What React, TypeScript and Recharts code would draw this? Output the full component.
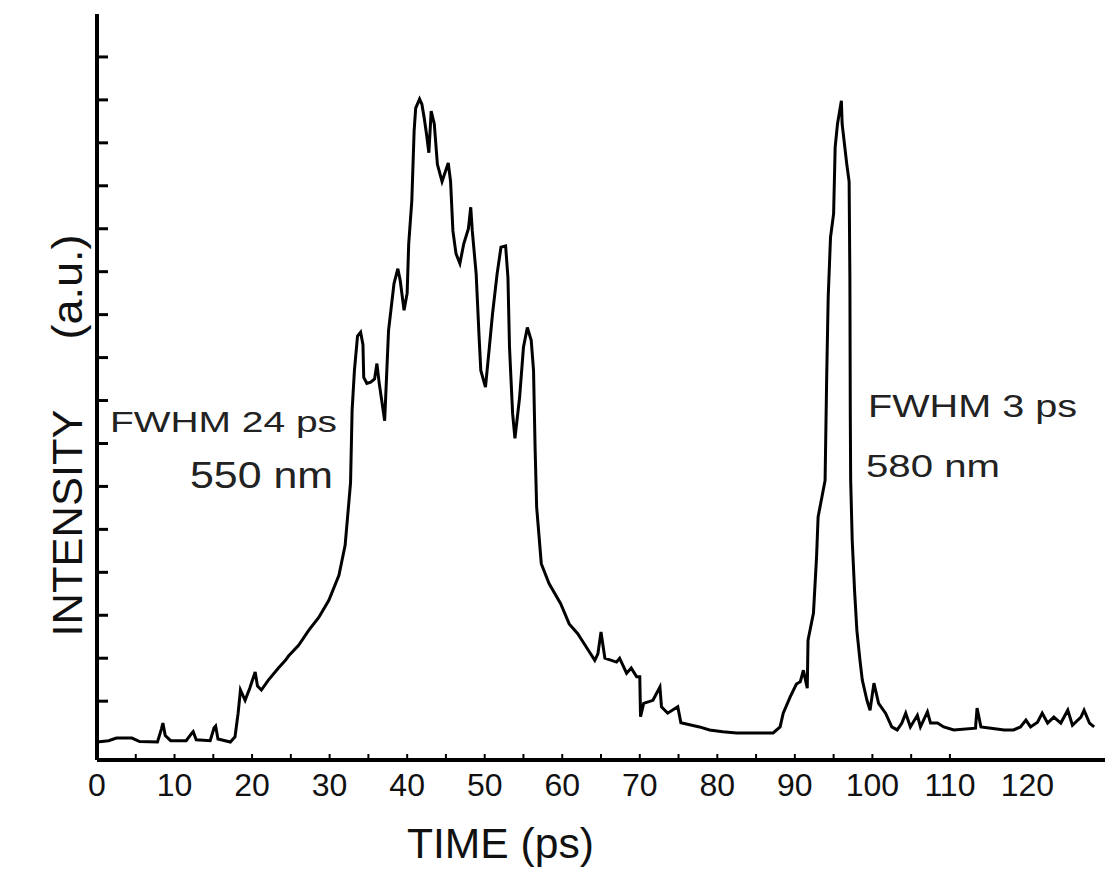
import React from "react";
import { LineChart, Line, XAxis, YAxis } from "recharts";

// time in ps, intensity in arbitrary units (one unit = one y tick step)
const time = [
  0, 1.5, 2.5, 4.5, 5.5, 7.8, 8.3, 8.5, 8.8, 9.5, 11.5, 12.2, 12.4, 12.8, 14.6, 15.1, 15.3, 15.6, 17.2, 17.8,
  18.2, 18.5, 19.1, 19.7, 20.4, 20.7, 21.2, 22.1, 23.4, 24.3, 24.7, 26, 27.3, 28.6, 29.9, 31.2, 32, 32.5, 32.7, 32.9,
  33.2, 33.6, 34.0, 34.3, 34.4, 34.8, 35.3, 35.8, 36.1, 36.4, 37.1, 37.6, 38.3, 38.8, 39.1, 39.6, 40, 40.2, 40.6, 40.9,
  41.1, 41.6, 41.9, 42.2, 42.5, 42.8, 43.1, 43.5, 43.9, 44.5, 45.3, 45.6, 45.9, 46.3, 46.8, 47.3, 47.9, 48.2, 48.4, 48.9,
  49.3, 49.5, 50.1, 50.6, 51, 51.6, 52.1, 52.7, 53.0, 53.2, 53.6, 53.9, 54.5, 55, 55.5, 56, 56.3, 56.5, 56.7, 57.3,
  58.3, 59.8, 60.9, 62, 63.1, 64.2, 64.6, 65, 65.5, 67, 67.4, 68.3, 68.9, 69.6, 70, 70.1, 70.5, 71.7, 72.6, 72.8,
  73.6, 74.9, 75.3, 77.7, 79, 80.7, 82.5, 85.1, 87.2, 88.1, 88.5, 89.4, 90.2, 90.7, 91.1, 91.6, 91.7, 92.4, 92.8, 93,
  93.9, 94.1, 94.3, 94.6, 95, 95.2, 95.5, 96, 96.1, 96.7, 97, 97.1, 97.15, 97.2, 97.4, 97.7, 98.0, 98.4, 98.7, 99.3,
  99.7, 100.2, 100.8, 101.7, 102.5, 103.2, 103.8, 104.3, 104.9, 105.8, 106.2, 107.1, 107.5, 108.4, 109.2, 110.5, 113.3, 113.5, 114, 115.3,
  117, 118.2, 119.1, 119.8, 120.4, 121.3, 121.9, 122.6, 123.4, 124.3, 125.2, 125.8, 126.9, 127.3, 128, 128.6,
];

const intensity = [
  0.05, 0.08, 0.14, 0.14, 0.06, 0.05, 0.35, 0.49, 0.2, 0.08, 0.08, 0.25, 0.29, 0.1, 0.08, 0.38, 0.42, 0.12, 0.05, 0.17,
  0.72, 1.26, 1.02, 1.3, 1.68, 1.35, 1.26, 1.49, 1.77, 1.95, 2.05, 2.3, 2.65, 2.95, 3.35, 3.93, 4.63, 5.67, 6.09, 7.77,
  8.7, 9.5, 9.59, 9.3, 8.54, 8.4, 8.43, 8.5, 8.86, 8.4, 7.53, 9.63, 10.72, 11.07, 10.8, 10.1, 10.5, 11.65, 12.65, 14.28,
  14.81, 15.02, 14.9, 14.58, 14.2, 13.77, 14.74, 14.44, 13.5, 13.1, 13.53, 13.1, 11.95, 11.42, 11.19, 11.65, 12.0, 12.5, 11.95, 10.95,
  9.4, 8.7, 8.31, 9.24, 10.0, 10.95, 11.57, 11.6, 10.86, 9.24, 7.7, 7.12, 8.07, 9.24, 9.7, 9.4, 8.7, 6.9, 5.52, 4.2,
  3.74, 3.27, 2.8, 2.57, 2.26, 1.95, 2.1, 2.61, 2.0, 1.91, 2.0, 1.65, 1.77, 1.57, 1.57, 0.64, 0.95, 1.02, 1.33, 0.87,
  0.72, 0.87, 0.5, 0.4, 0.33, 0.29, 0.26, 0.26, 0.26, 0.4, 0.72, 1.1, 1.4, 1.45, 1.72, 1.3, 2.42, 3.05, 4.36, 5.29,
  6.14, 8.47, 10.4, 11.8, 12.35, 13.9, 14.44, 14.98, 14.44, 13.5, 13.1, 10.8, 7.7, 6.14, 4.74, 3.58, 2.65, 1.95, 1.49, 1.02,
  0.79, 1.42, 0.95, 0.72, 0.4, 0.33, 0.49, 0.72, 0.4, 0.67, 0.4, 0.75, 0.49, 0.49, 0.4, 0.33, 0.37, 0.84, 0.4, 0.37,
  0.33, 0.33, 0.4, 0.56, 0.4, 0.51, 0.72, 0.49, 0.63, 0.49, 0.79, 0.44, 0.63, 0.79, 0.49, 0.4,
];

const xLabels = [0, 10, 20, 30, 40, 50, 60, 70, 80, 90, 100, 110, 120];
const xMinorTicks = [5, 10, 15, 20, 25, 30, 35, 40, 45, 50, 55, 60, 65, 70, 75, 80, 85, 90, 95, 100, 105, 110];
const yTicks = [1, 2, 3, 4, 5, 6, 7, 8, 9, 10, 11, 12, 13, 14, 15, 16];

const data = time.map((t, i) => ({ t, v: intensity[i] }));

const font = "'Liberation Sans', Arial, sans-serif";

const NoLabel = () => <g />;

export default function App() {
  return (
    <div style={{ position: "absolute", left: 0, top: 0, width: 1107, height: 870, background: "#fff" }}>
      <LineChart width={1107} height={870} data={data} margin={{ top: 14, right: 2, bottom: 0, left: 97 }}>
        <XAxis
          dataKey="t"
          type="number"
          domain={[0, 130]}
          allowDataOverflow
          ticks={xLabels}
          interval={0}
          height={110}
          tickSize={0}
          tickMargin={13}
          tickLine={false}
          axisLine={{ stroke: "#000", strokeWidth: 4 }}
          tick={{ fill: "#111", fontSize: 32, fontFamily: font }}
        />
        <XAxis
          xAxisId="minor"
          dataKey="t"
          type="number"
          domain={[0, 130]}
          allowDataOverflow
          ticks={xMinorTicks}
          interval={0}
          mirror
          height={1}
          tickSize={6}
          tick={NoLabel}
          axisLine={false}
          tickLine={{ stroke: "#000", strokeWidth: 2 }}
        />
        <YAxis
          type="number"
          domain={[-0.37, 17]}
          allowDataOverflow
          ticks={yTicks}
          interval={0}
          mirror
          width={1}
          tickSize={11}
          tick={NoLabel}
          axisLine={{ stroke: "#000", strokeWidth: 4 }}
          tickLine={{ stroke: "#000", strokeWidth: 3 }}
        />
        <Line
          dataKey="v"
          type="linear"
          stroke="#000"
          strokeWidth={3}
          dot={false}
          isAnimationActive={false}
        />
      </LineChart>
      <svg
        width={1107}
        height={870}
        style={{ position: "absolute", left: 0, top: 0, pointerEvents: "none" }}
        fontFamily={font}
        fill="#111"
      >
        <text x={407} y={858} fontSize={42} textLength={187} lengthAdjust="spacingAndGlyphs">TIME (ps)</text>
        <text x={82} y={523} fontSize={42} textAnchor="middle" textLength={227} lengthAdjust="spacingAndGlyphs" transform="rotate(-90 82 523)">INTENSITY</text>
        <text x={82} y={287} fontSize={42} textAnchor="middle" textLength={105} lengthAdjust="spacingAndGlyphs" transform="rotate(-90 82 287)">(a.u.)</text>
        <text x={110} y={432} fontSize={30} textLength={227} lengthAdjust="spacingAndGlyphs" fill="#222">FWHM 24 ps</text>
        <text x={190} y={488} fontSize={36} textLength={143} lengthAdjust="spacingAndGlyphs" fill="#222">550 nm</text>
        <text x={868} y={417} fontSize={32} textLength={209} lengthAdjust="spacingAndGlyphs" fill="#222">FWHM 3 ps</text>
        <text x={866} y={477} fontSize={32} textLength={134} lengthAdjust="spacingAndGlyphs" fill="#222">580 nm</text>
      </svg>
    </div>
  );
}
